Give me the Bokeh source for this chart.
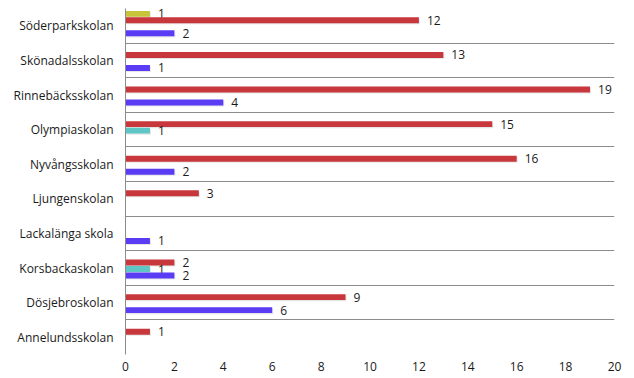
from bokeh.plotting import figure
from bokeh.models import ColumnDataSource, Range1d, FixedTicker
from bokeh.transform import dodge
from bokeh.embed import file_html
from bokeh.resources import INLINE

schools = ["Söderparkskolan", "Skönadalsskolan", "Rinnebäcksskolan", "Olympiaskolan",
           "Nyvångsskolan", "Ljungenskolan", "Lackalänga skola", "Korsbackaskolan",
           "Dösjebroskolan", "Annelundsskolan"]
yellow_vals = [1, 0, 0, 0, 0, 0, 0, 0, 0, 0]
red_vals = [12, 13, 19, 15, 16, 3, 0, 2, 9, 1]
teal_vals = [0, 0, 0, 1, 0, 0, 0, 1, 0, 0]
blue_vals = [2, 1, 4, 0, 2, 0, 1, 2, 6, 0]
x_ticks = [0, 2, 4, 6, 8, 10, 12, 14, 16, 18, 20]

n = len(schools)
centers = [n - 0.5 - i for i in range(n)]

FONT = "Open Sans"
p = figure(width=634, height=378, x_range=Range1d(0, 20), y_range=Range1d(0, n),
           output_backend="svg", toolbar_location=None,
           min_border_left=125, min_border_right=20, min_border_top=8, min_border_bottom=24)
p.outline_line_color = None
p.background_fill_color = "white"

series = [
    (yellow_vals, "#c8c43a", 0.345),
    (red_vals, "#c8373b", 0.158),
    (teal_vals, "#5ec6c4", -0.03),
    (blue_vals, "#5a3cf5", -0.218),
]

bar_h = 0.172
for vals, color, off in series:
    ys = [c for c, v in zip(centers, vals) if v > 0]
    xs = [v for v in vals if v > 0]
    src = ColumnDataSource(dict(y=ys, v=xs, lab=[str(v) for v in xs]))
    p.hbar(y=dodge("y", off - 0.035), left=0.04, right=dodge("v", 0.04), height=bar_h * 0.95,
           source=src, fill_color="#9a9a9a", fill_alpha=0.25, line_color=None)
    p.hbar(y=dodge("y", off), left=0, right="v", height=bar_h, source=src,
           fill_color=color, line_color=None)
    p.text(x="v", y=dodge("y", off), text="lab", source=src, x_offset=8,
           text_align="left", text_baseline="middle", text_font_size="12px",
           text_font={"value": FONT}, text_color="#1a1a1a")

p.xgrid.grid_line_color = None
p.ygrid.ticker = FixedTicker(ticks=list(range(n + 1)))
p.ygrid.grid_line_color = "#8c8c8c"
p.ygrid.grid_line_width = 1

p.xaxis.ticker = FixedTicker(ticks=x_ticks)
p.xaxis.axis_line_color = None
p.xaxis.major_tick_line_color = None
p.xaxis.minor_tick_line_color = None
p.xaxis.major_tick_out = 0
p.xaxis.major_tick_in = 0
p.xaxis.major_label_standoff = 7
p.xaxis.major_label_text_font = FONT
p.xaxis.major_label_text_font_size = "12px"
p.xaxis.major_label_text_color = "#1a1a1a"

p.yaxis.ticker = FixedTicker(ticks=centers)
p.yaxis.major_label_overrides = {c: s for c, s in zip(centers, schools)}
p.yaxis.axis_line_color = "#8c8c8c"
p.yaxis.major_tick_line_color = None
p.yaxis.minor_tick_line_color = None
p.yaxis.major_tick_out = 0
p.yaxis.major_tick_in = 0
p.yaxis.major_label_standoff = 12
p.yaxis.major_label_text_font = FONT
p.yaxis.major_label_text_font_size = "12px"
p.yaxis.major_label_text_color = "#1a1a1a"

open("out.html", "w").write(file_html(p, INLINE))
